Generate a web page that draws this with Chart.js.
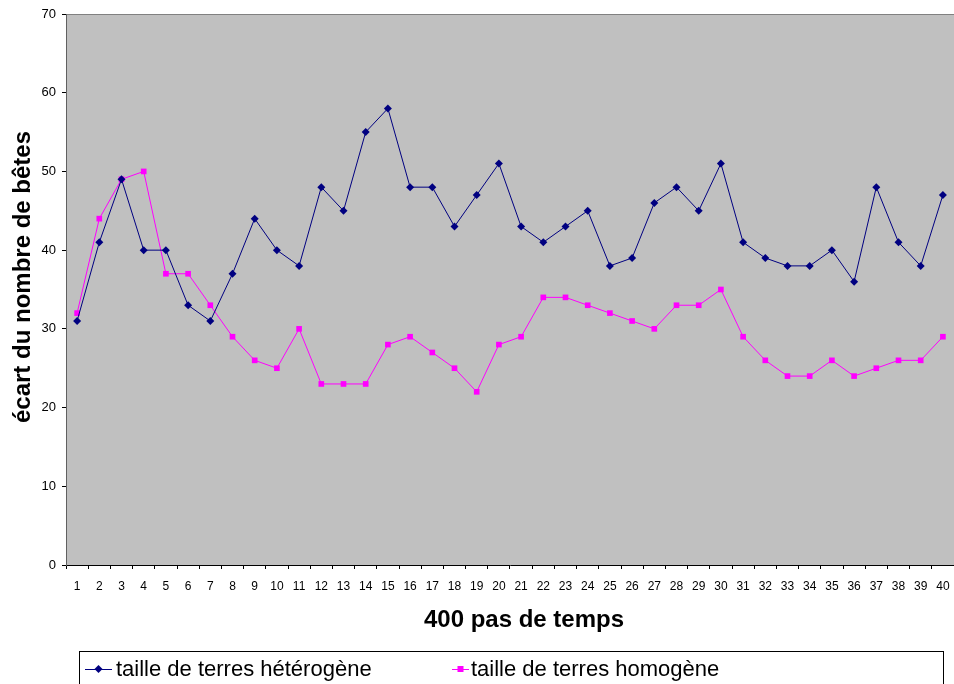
<!DOCTYPE html>
<html><head><meta charset="utf-8">
<script src="https://cdn.jsdelivr.net/npm/chart.js@4/dist/chart.umd.min.js"></script>
<style>html,body{margin:0;padding:0;background:#fff;overflow:hidden;}#wrap{width:954px;height:684px;position:relative;overflow:hidden;}canvas{display:block;}</style>
</head><body><div id="wrap"><canvas id="c" width="954" height="684"></canvas></div>
<script>
const categories = Array.from({length:40},(_, i)=>String(i+1));
const heterogene = [31,41,49,40,40,33,31,37,44,40,38,48,45,55,58,48,48,43,47,51,43,41,43,45,38,39,46,48,45,51,41,39,38,38,40,36,48,41,38,47];
const homogene   = [32,44,49,50,37,37,33,29,26,25,30,23,23,23,28,29,27,25,22,28,29,34,34,33,32,31,30,33,33,35,29,26,24,24,26,24,25,26,26,29];
const seriesNames = ['taille de terres hétérogène','taille de terres homogène'];
const yTicks = [0,10,20,30,40,50,60,70];
const xTitle = '400 pas de temps';
const yTitle = 'écart du nombre de bêtes';

const FONT = '"Liberation Sans", Arial, sans-serif';
const colors = ['#000080','#FF00FF'];

const deco = {
  id:'deco',
  beforeDraw(chart){
    const {ctx, chartArea:a} = chart;
    ctx.save();
    ctx.fillStyle='#fff'; ctx.fillRect(0,0,chart.width,chart.height);
    ctx.fillStyle='#C0C0C0';
    ctx.fillRect(a.left,a.top,a.right-a.left,a.bottom-a.top);
    ctx.strokeStyle='#808080'; ctx.lineWidth=1;
    ctx.beginPath(); ctx.moveTo(a.left,a.top+0.5); ctx.lineTo(a.right,a.top+0.5); ctx.stroke();
    ctx.restore();
  },
  afterDraw(chart){
    const {ctx} = chart;
    ctx.save();
    ctx.fillStyle='#000';
    ctx.font='bold 24px '+FONT;
    ctx.textAlign='center'; ctx.textBaseline='middle';
    ctx.fillText(xTitle, 524, 620);
    ctx.translate(23,277); ctx.rotate(-Math.PI/2);
    ctx.fillText(yTitle,0,0);
    ctx.restore();
    ctx.save();
    ctx.fillStyle='#fff'; ctx.strokeStyle='#000'; ctx.lineWidth=1;
    ctx.fillRect(79.5,651.5,864,60); ctx.strokeRect(79.5,651.5,864,60);
    const items=[{x:85,tx:116,w:27},{x:452,tx:471,w:17}];
    items.forEach((it,i)=>{
      const y=669;
      ctx.strokeStyle=colors[i]; ctx.lineWidth=1;
      ctx.beginPath(); ctx.moveTo(it.x,y+0.5); ctx.lineTo(it.x+it.w,y+0.5); ctx.stroke();
      ctx.fillStyle=colors[i];
      const cx=it.x+it.w/2;
      if(i===0){ ctx.beginPath(); ctx.moveTo(cx,y-4); ctx.lineTo(cx+4,y); ctx.lineTo(cx,y+4); ctx.lineTo(cx-4,y); ctx.closePath(); ctx.fill(); }
      else { ctx.fillRect(cx-3,y-3,6,6); }
      ctx.fillStyle='#000'; ctx.font='22px '+FONT; ctx.textAlign='left'; ctx.textBaseline='middle';
      ctx.fillText(seriesNames[i], it.tx, y+1);
    });
    ctx.restore();
  }
};

new Chart(document.getElementById('c'),{
  type:'line',
  data:{labels:categories,datasets:[
    {label:seriesNames[0],data:heterogene,borderColor:colors[0],backgroundColor:colors[0],borderWidth:1,pointStyle:'rectRot',pointRadius:4,pointBorderWidth:0,tension:0},
    {label:seriesNames[1],data:homogene,borderColor:colors[1],backgroundColor:colors[1],borderWidth:1,pointStyle:'rect',pointRadius:4,pointBorderWidth:0,tension:0}
  ]},
  options:{
    responsive:false,animation:false,
    layout:{autoPadding:false,padding:{top:14,right:0,left:0,bottom:0}},
    plugins:{legend:{display:false},tooltip:{enabled:false}},
    scales:{
      x:{offset:true,
        grid:{offset:true,drawOnChartArea:false,drawTicks:true,tickLength:4,color:'#000'},
        border:{color:'#000',width:1},
        ticks:{color:'#000',font:{family:FONT,size:12},padding:10,maxRotation:0,autoSkip:false},
        afterFit(s){s.height=119; s.paddingLeft=0; s.paddingRight=0;}
      },
      y:{min:0,max:70,
        afterBuildTicks(s){s.ticks=yTicks.map(v=>({value:v}));},
        grid:{drawOnChartArea:false,drawTicks:true,tickLength:4,color:'#000'},
        border:{color:'#606060',width:1},
        ticks:{color:'#000',font:{family:FONT,size:13},padding:6},
        afterFit(s){s.width=66; s.paddingTop=0; s.paddingBottom=0;}
      }
    }
  },
  plugins:[deco]
});
</script></body></html>
